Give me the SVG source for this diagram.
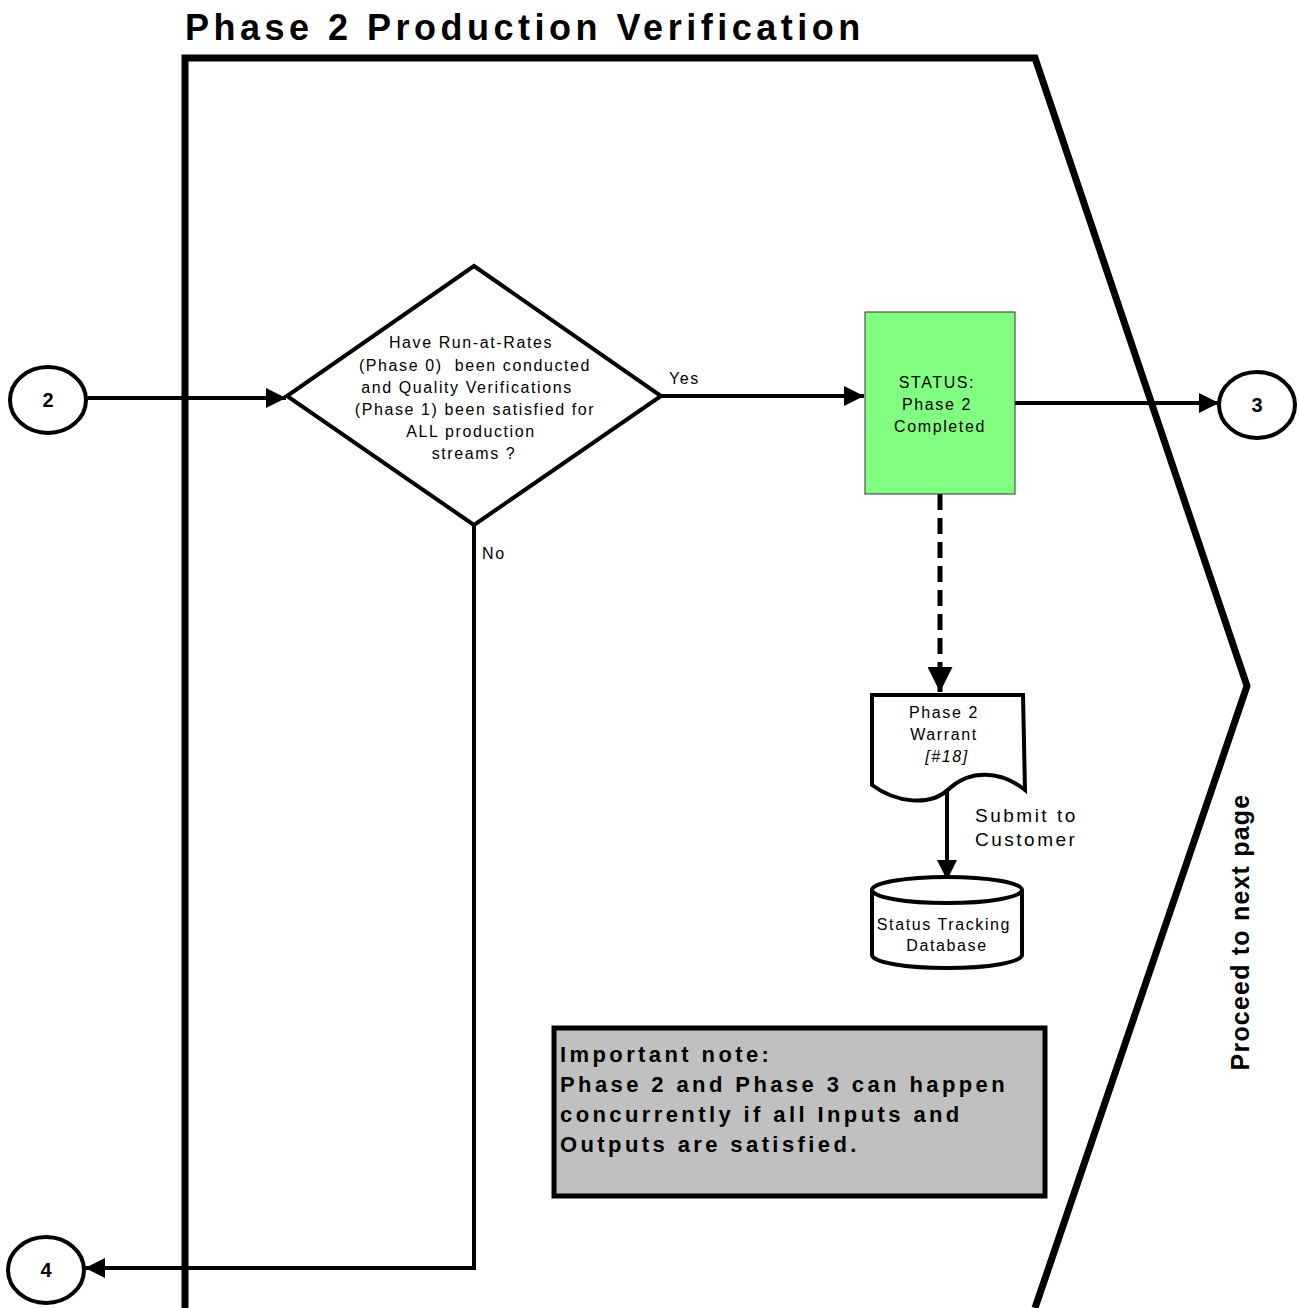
<svg xmlns="http://www.w3.org/2000/svg" width="1299" height="1308" viewBox="0 0 1299 1308">
<defs>
<style>
.t{font-family:"Liberation Sans",Arial,sans-serif;fill:#000}
.sm{font-size:16px;letter-spacing:1.6px}
.num{font-size:20px;font-weight:bold}
.conn{fill:none;stroke:#000;stroke-width:4}
</style>
<marker id="ah" viewBox="0 0 10 10" refX="10" refY="5" markerWidth="5" markerHeight="5" orient="auto" markerUnits="strokeWidth">
<path d="M0,0 L10,5 L0,10 Z" fill="#000"/>
</marker>
</defs>
<rect width="1299" height="1308" fill="#fff"/>
<text class="t" x="185" y="40" font-size="36" font-weight="bold" letter-spacing="4.5">Phase 2 Production Verification</text>
<g id="boundary">
<polyline points="185,1308 185,58 1035,58 1247,686 1035,1308" fill="none" stroke="#000" stroke-width="7"/>
</g>
<g id="connectors">
<line class="conn" x1="87" y1="398" x2="286" y2="398" marker-end="url(#ah)"/>
<line class="conn" x1="661" y1="396" x2="864" y2="396" marker-end="url(#ah)"/>
<line class="conn" x1="1015" y1="403" x2="1219" y2="403" marker-end="url(#ah)"/>
<line x1="940" y1="494" x2="940" y2="692" stroke="#000" stroke-width="5" stroke-dasharray="16,8" marker-end="url(#ah)"/>
<line class="conn" x1="947" y1="792" x2="947" y2="880" marker-end="url(#ah)"/>
<polyline class="conn" points="474,525 474,1268 85,1268" marker-end="url(#ah)"/>
<text class="t sm" x="669" y="384">Yes</text>
<text class="t sm" x="482" y="559">No</text>
<text class="t" x="975" y="822" font-size="19" letter-spacing="2.5">Submit to</text>
<text class="t" x="975" y="846" font-size="19" letter-spacing="2.5">Customer</text>
</g>
<g id="n2">
<ellipse cx="48" cy="400" rx="38" ry="33" fill="#fff" stroke="#000" stroke-width="4"/>
<text class="t num" x="48" y="407" text-anchor="middle">2</text>
</g>
<g id="decision">
<polygon points="474,266 661,396 474,525 287,396" fill="#fff" stroke="#000" stroke-width="4"/>
<text class="t sm" text-anchor="middle">
<tspan x="474" y="348">Have Run-at-Rates</tspan>
<tspan x="478" y="371">(Phase 0)&#160; been conducted</tspan>
<tspan x="470" y="393">and Quality Verifications</tspan>
<tspan x="478" y="415">(Phase 1) been satisfied for</tspan>
<tspan x="474" y="437">ALL production</tspan>
<tspan x="474" y="459">streams ?</tspan>
</text>
</g>
<g id="status">
<rect x="865" y="312" width="150" height="182" fill="#80FF80" stroke="#333" stroke-width="1"/>
<text class="t sm" text-anchor="middle">
<tspan x="940" y="388">STATUS:</tspan>
<tspan x="940" y="410">Phase 2</tspan>
<tspan x="940" y="432">Completed</tspan>
</text>
</g>
<g id="n3">
<ellipse cx="1257" cy="405" rx="38" ry="33" fill="#fff" stroke="#000" stroke-width="4"/>
<text class="t num" x="1257" y="412" text-anchor="middle">3</text>
</g>
<g id="warrant">
<path d="M872,695 L1023,695 L1025,790 C1000,770 970,770 950,788 C930,808 895,802 872,785 Z" fill="#fff" stroke="#000" stroke-width="4"/>
<text class="t sm" text-anchor="middle">
<tspan x="947" y="718">Phase 2</tspan>
<tspan x="947" y="740">Warrant</tspan>
<tspan x="947" y="762" font-style="italic">[#18]</tspan>
</text>
</g>
<g id="database">
<path d="M872,890 L872,955 A75,13 0 0 0 1022,955 L1022,890" fill="#fff" stroke="#000" stroke-width="4"/>
<ellipse cx="947" cy="890" rx="75" ry="13" fill="#fff" stroke="#000" stroke-width="4"/>
<text class="t sm" text-anchor="middle">
<tspan x="947" y="930">Status Tracking</tspan>
<tspan x="947" y="951">Database</tspan>
</text>
</g>
<g id="note">
<rect x="554" y="1028" width="491" height="168" fill="#C0C0C0" stroke="#000" stroke-width="5"/>
<text class="t" font-size="22" font-weight="bold" letter-spacing="3.4">
<tspan x="560" y="1062">Important note:</tspan>
<tspan x="560" y="1092">Phase 2 and Phase 3 can happen</tspan>
<tspan x="560" y="1122">concurrently if all Inputs and</tspan>
<tspan x="560" y="1152">Outputs are satisfied.</tspan>
</text>
</g>
<g id="n4">
<ellipse cx="46" cy="1270" rx="38" ry="33" fill="#fff" stroke="#000" stroke-width="4"/>
<text class="t num" x="46" y="1277" text-anchor="middle">4</text>
</g>
<text class="t" transform="translate(1249,932) rotate(-90)" font-size="25" font-weight="bold" letter-spacing="1.2" text-anchor="middle">Proceed to next page</text>
</svg>
